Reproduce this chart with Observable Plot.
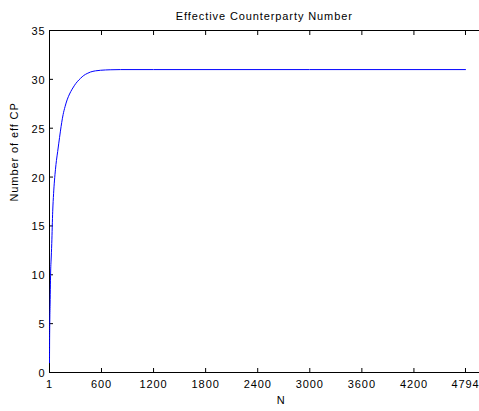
<!DOCTYPE html>
<html>
<head>
<meta charset="utf-8">
<script src="https://cdn.jsdelivr.net/npm/d3@7"></script>
<script src="https://cdn.jsdelivr.net/npm/@observablehq/plot@0.6"></script>
<style>
  html, body { margin: 0; padding: 0; background: #fff; overflow: hidden; }
  #chart svg { overflow: hidden; }
</style>
</head>
<body>
<div id="chart"></div>
<script>
const titleText = "Effective Counterparty Number";
const xLabel = "N";
const yLabel = "Number of eff CP";
const nValues = [1, 2, 4, 8, 15, 19, 27, 38, 48, 58, 70, 81, 95, 107, 127, 142, 158, 180, 204, 232, 262, 290, 320, 358, 396, 435, 473, 530, 589, 700, 820, 1200, 4794];
const effCP   = [1, 3, 5, 7, 10.6, 11.4, 13.2, 16.5, 18.3, 19.6, 20.8, 21.7, 22.6, 23.4, 24.7, 25.6, 26.4, 27.2, 27.9, 28.5, 29.0, 29.4, 29.75, 30.1, 30.4, 30.6, 30.75, 30.87, 30.93, 30.98, 31.0, 31.0, 31.0];
const xTicks = [1, 600, 1200, 1800, 2400, 3000, 3600, 4200, 4794];
const yTicks = [0, 5, 10, 15, 20, 25, 30, 35];

const data = nValues.map((n, i) => ({n, v: effCP[i]}));

const chart = Plot.plot({
  width: 479,
  height: 411,
  marginLeft: 49,
  marginRight: 0,
  marginTop: 30,
  marginBottom: 39,
  style: {fontFamily: "'Liberation Sans', Arial, sans-serif", fontSize: "11px", letterSpacing: "0.9px", color: "#000", background: "#fff", overflow: "hidden"},
  x: {domain: [1, 4990], range: [49, 482]},
  y: {domain: [0, 35]},
  marks: [
    Plot.ruleY([0, 35], {stroke: "#000", strokeWidth: 1}),
    Plot.ruleX([1], {stroke: "#000", strokeWidth: 1}),
    Plot.axisX(xTicks, {anchor: "bottom", tickSize: -4, fill: "none", label: null}),
    Plot.axisX(xTicks, {anchor: "bottom", tickSize: 0, tickPadding: 8, label: null, tickFormat: d => String(d)}),
    Plot.axisX(xTicks, {anchor: "top", tickSize: -4, fill: "none", label: null}),
    Plot.axisY(yTicks, {anchor: "left", tickSize: -4, fill: "none", label: null}),
    Plot.axisY(yTicks, {anchor: "left", tickSize: 0, tickPadding: 4, label: null, dy: 1}),
    Plot.axisY(yTicks, {anchor: "right", tickSize: -4, fill: "none", label: null, dx: 3}),
    Plot.line(data, {x: "n", y: "v", stroke: "#0000ff", strokeWidth: 1, curve: "monotone-x"}),
    Plot.text([titleText], {x: [2476], frameAnchor: "top", dy: -11, lineAnchor: "bottom", fill: "#000"}),
    Plot.text([yLabel], {frameAnchor: "left", rotate: -90, dx: -35, fill: "#000"}),
    Plot.text([xLabel], {x: [2670], frameAnchor: "bottom", dy: 31, fill: "#000"})
  ]
});
document.getElementById("chart").appendChild(chart);
</script>
</body>
</html>
